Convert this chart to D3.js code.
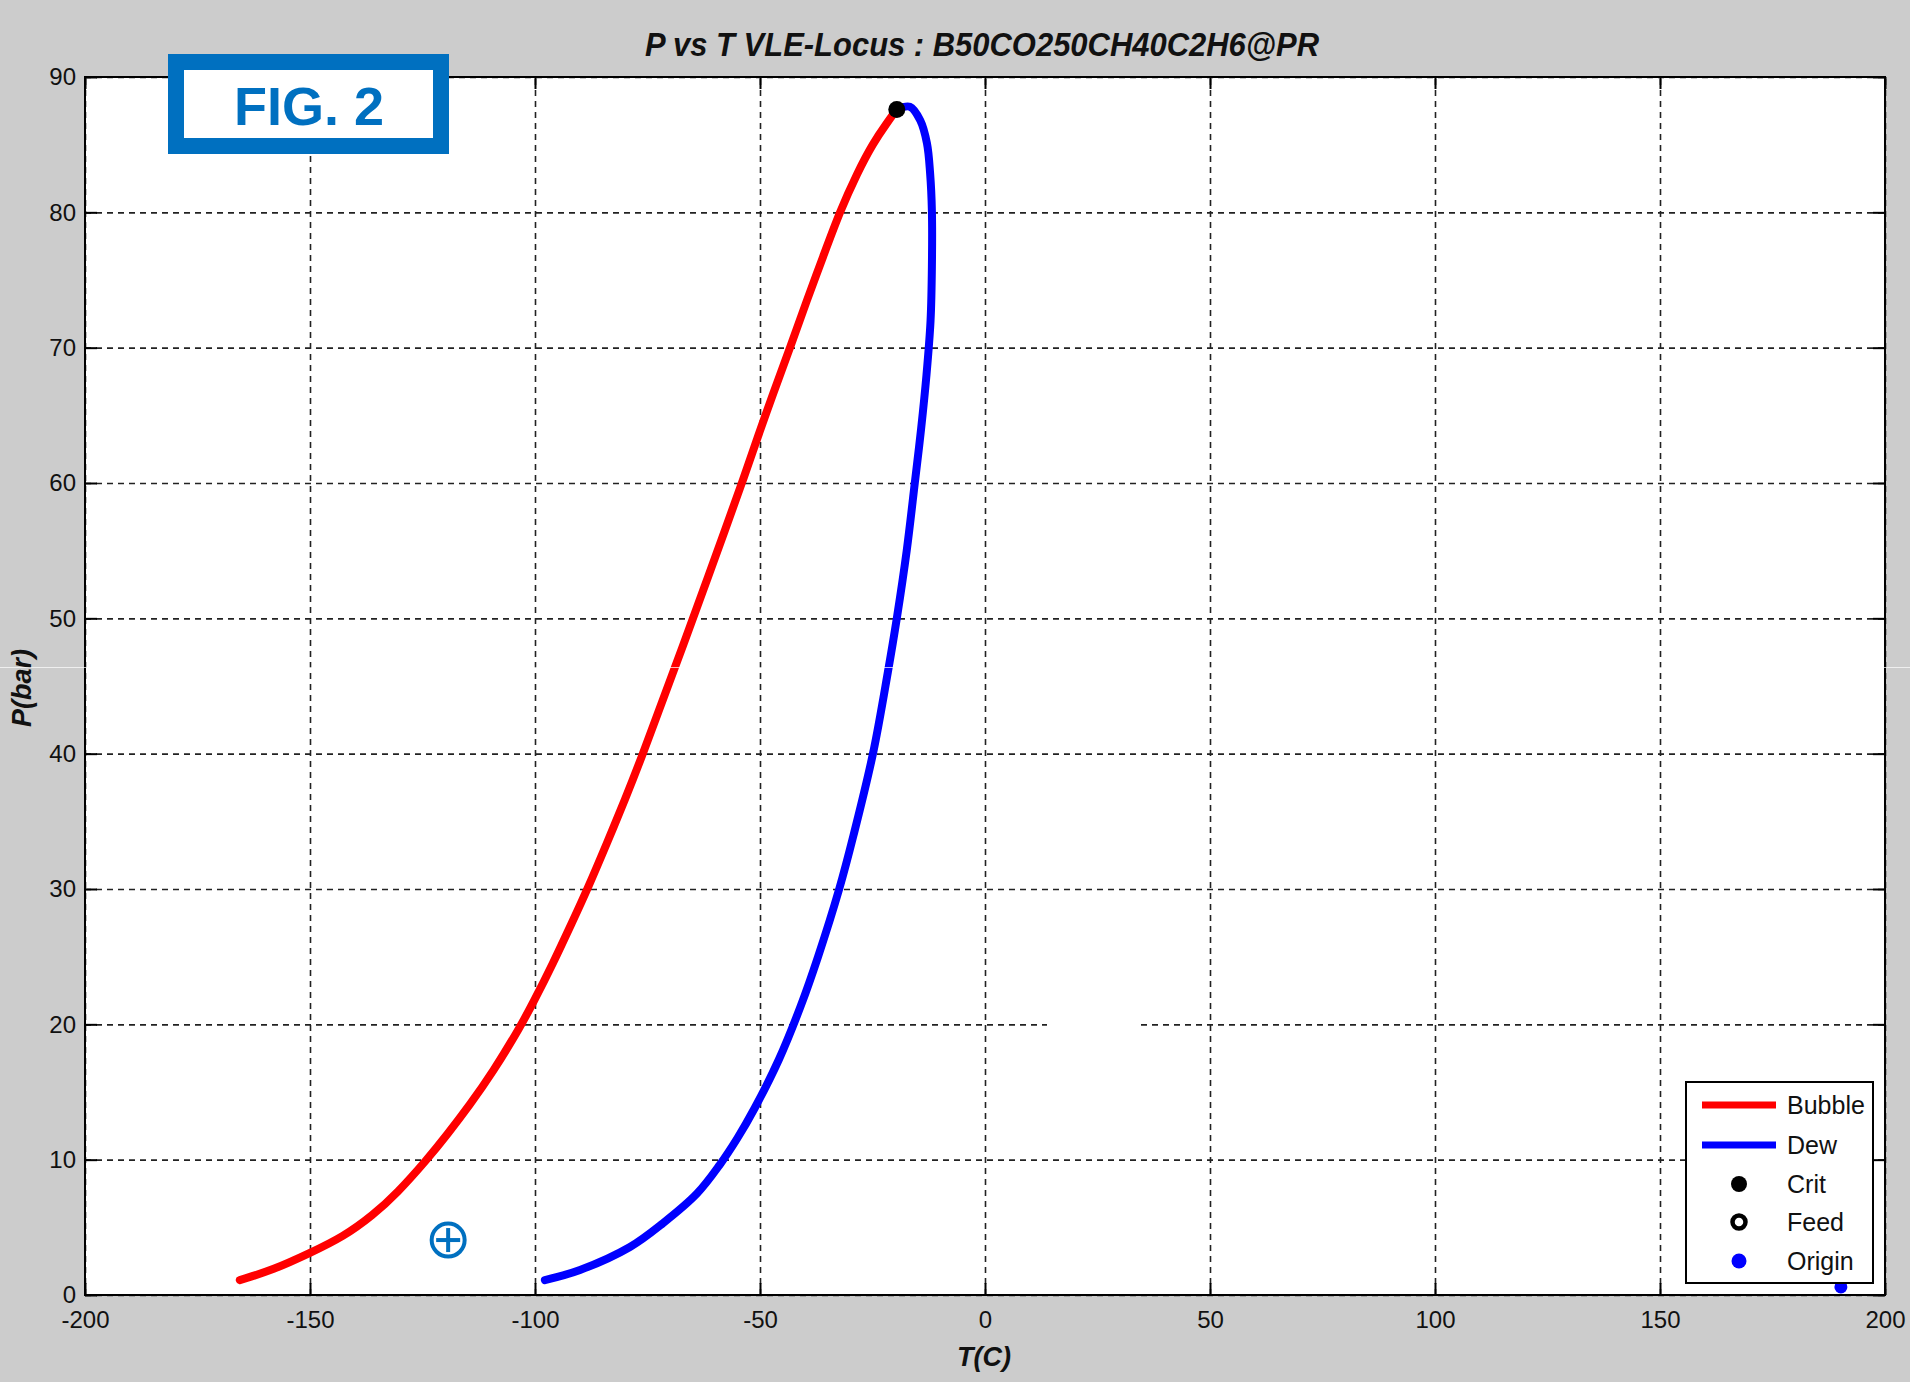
<!DOCTYPE html>
<html>
<head>
<meta charset="utf-8">
<script src="https://cdn.jsdelivr.net/npm/d3@7"></script>
<style>
  html, body { margin: 0; padding: 0; background: #cccccc; }
  svg { display: block; }
</style>
</head>
<body>
<svg id="chart" width="1910" height="1382"></svg>
<script>
// ---------------- DATA ----------------
const chartTitle = "P vs T VLE-Locus : B50CO250CH40C2H6@PR";
const xLabel = "T(C)";
const yLabel = "P(bar)";
const xTicks = [-200, -150, -100, -50, 0, 50, 100, 150, 200];
const yTicks = [0, 10, 20, 30, 40, 50, 60, 70, 80, 90];

// Bubble curve (T in C, P in bar)
const bubbleT = [-165.6, -158.2, -150.0, -142.6, -136.0, -130.7, -124.0, -119.4, -114.6, -109.3,
                 -103.3, -100.4, -96.0, -91.8, -88.2, -84.0, -80.0, -76.0, -72.7, -69.3,
                 -64.9, -61.6, -57.8, -54.0, -50.3, -47.2, -43.3, -39.6, -36.0, -32.2,
                 -28.4, -24.9, -21.8, -19.6];
const bubbleP = [1.1, 1.85, 3.1, 4.3, 5.9, 7.5, 10.0, 11.9, 14.0, 16.5,
                 19.8, 21.6, 24.5, 27.5, 30.1, 33.4, 36.6, 40.0, 43.0, 46.0,
                 50.0, 53.0, 56.5, 60.0, 63.6, 66.5, 70.0, 73.5, 76.7, 80.1,
                 82.9, 85.1, 86.6, 87.6];

// Dew curve
const dewT = [-97.8, -90.0, -78.9, -71.6, -64.0, -59.0, -55.0, -51.2, -45.8, -40.9,
              -37.1, -32.4, -29.2, -24.9, -21.6, -19.6, -17.4, -15.6, -14.2, -13.0,
              -12.1, -11.8, -11.8, -12.2, -12.9, -14.4, -16.7, -19.6];
const dewP = [1.1, 1.85, 3.55, 5.3, 7.5, 9.6, 11.6, 13.8, 17.4, 21.4,
              25.0, 30.0, 34.0, 40.0, 46.0, 50.0, 55.0, 60.0, 64.0, 68.0,
              72.0, 76.0, 80.1, 82.9, 85.1, 86.8, 87.8, 87.6];

// Special points
const critPoint = [-19.6, 87.6];
const originPoint = [190.2, 0.6];
const annotationPoint = [-119.3, 4.06];   // circled-plus mark
const legendNames = ["Bubble", "Dew", "Crit", "Feed", "Origin"];
const figLabel = "FIG. 2";

// ---------------- LAYOUT ----------------
const svg = d3.select("#chart");
const W = 1910, H = 1382;
const plot = { left: 85, right: 1885, top: 77, bottom: 1295 };
const x = d3.scaleLinear().domain([-200, 200]).range([plot.left, plot.right]);
const y = d3.scaleLinear().domain([0, 90]).range([plot.bottom, plot.top]);
const pw = plot.right - plot.left, ph = plot.bottom - plot.top;
const blue = "#0070c0";
const FONT = "'Liberation Sans', Arial, sans-serif";

svg.append("rect").attr("width", W).attr("height", H).attr("fill", "#cccccc");
svg.append("rect").attr("x", plot.left).attr("y", plot.top)
  .attr("width", pw).attr("height", ph).attr("fill", "#ffffff");

// Grid
const gridX = svg.append("g").attr("transform", `translate(0,${plot.bottom})`)
  .call(d3.axisBottom(x).tickValues(xTicks).tickSize(-ph).tickFormat(""));
const gridY = svg.append("g").attr("transform", `translate(${plot.left},0)`)
  .call(d3.axisLeft(y).tickValues(yTicks).tickSize(-pw).tickFormat(""));
[gridX, gridY].forEach(g => {
  g.select(".domain").remove();
  g.selectAll("line").attr("stroke", "#222").attr("stroke-width", 1.6)
    .attr("stroke-dasharray", "6,5");
});
// small gap artifact in the 20-bar gridline
svg.append("rect").attr("x", 1047).attr("y", y(20) - 4).attr("width", 89).attr("height", 8)
  .attr("fill", "#fff");

// Inward tick marks on all four sides
const tl = 12;
const fmt = d => String(d);
const axB = svg.append("g").attr("transform", `translate(0,${plot.bottom})`)
  .call(d3.axisBottom(x).tickValues(xTicks).tickSize(-tl).tickPadding(16).tickFormat(fmt));
const axL = svg.append("g").attr("transform", `translate(${plot.left},0)`)
  .call(d3.axisLeft(y).tickValues(yTicks).tickSize(-tl).tickPadding(9).tickFormat(fmt));
const axT = svg.append("g").attr("transform", `translate(0,${plot.top})`)
  .call(d3.axisTop(x).tickValues(xTicks).tickSize(-tl).tickFormat(""));
const axR = svg.append("g").attr("transform", `translate(${plot.right},0)`)
  .call(d3.axisRight(y).tickValues(yTicks).tickSize(-tl).tickFormat(""));
[axB, axL, axT, axR].forEach(g => {
  g.select(".domain").remove();
  g.selectAll("line").attr("stroke", "#000").attr("stroke-width", 2);
  g.selectAll("text").attr("fill", "#111")
    .attr("font-family", FONT).attr("font-size", 24);
});
axB.selectAll("text").attr("dy", "0.71em");

// Curves
const bubble = bubbleT.map((t, i) => [t, bubbleP[i]]);
const dew = dewT.map((t, i) => [t, dewP[i]]);
const lineB = d3.line().x(d => x(d[0])).y(d => y(d[1])).curve(d3.curveBasis);
const lineD = d3.line().x(d => x(d[0])).y(d => y(d[1])).curve(d3.curveCatmullRom.alpha(0.5));
svg.append("path").datum(bubble).attr("d", lineB).attr("fill", "none")
  .attr("stroke", "#ff0000").attr("stroke-width", 8).attr("stroke-linecap", "round").attr("stroke-linejoin", "round");
svg.append("path").datum(dew).attr("d", lineD).attr("fill", "none")
  .attr("stroke", "#0000ff").attr("stroke-width", 8).attr("stroke-linecap", "round").attr("stroke-linejoin", "round");

// Crit point
svg.append("circle").attr("cx", x(critPoint[0])).attr("cy", y(critPoint[1])).attr("r", 8.5).attr("fill", "#000");
// Origin point
svg.append("circle").attr("cx", x(originPoint[0])).attr("cy", y(originPoint[1])).attr("r", 6.5).attr("fill", "#0000ff");

// Axes box
svg.append("rect").attr("x", plot.left).attr("y", plot.top).attr("width", pw).attr("height", ph)
  .attr("fill", "none").attr("stroke", "#000").attr("stroke-width", 2);

// Circled plus annotation
const ax0 = x(annotationPoint[0]), ay0 = y(annotationPoint[1]);
svg.append("circle").attr("cx", ax0).attr("cy", ay0).attr("r", 16.5)
  .attr("fill", "none").attr("stroke", blue).attr("stroke-width", 4);
svg.append("line").attr("x1", ax0 - 12).attr("x2", ax0 + 12).attr("y1", ay0).attr("y2", ay0)
  .attr("stroke", blue).attr("stroke-width", 4);
svg.append("line").attr("x1", ax0).attr("x2", ax0).attr("y1", ay0 - 12).attr("y2", ay0 + 12)
  .attr("stroke", blue).attr("stroke-width", 4);

// Legend
const lg = { x: 1686, y: 1082, w: 187, h: 201 };
svg.append("rect").attr("x", lg.x).attr("y", lg.y).attr("width", lg.w).attr("height", lg.h)
  .attr("fill", "#fff").attr("stroke", "#000").attr("stroke-width", 2);
const rowY = [1105, 1145, 1184, 1222, 1261];
const legG = svg.append("g");
legendNames.forEach((name, i) => {
  const ry = rowY[i];
  if (i === 0 || i === 1) {
    legG.append("line").attr("x1", 1702).attr("x2", 1776).attr("y1", ry).attr("y2", ry)
      .attr("stroke", i === 0 ? "#ff0000" : "#0000ff").attr("stroke-width", 7);
  } else if (i === 2) {
    legG.append("circle").attr("cx", 1739).attr("cy", ry).attr("r", 8).attr("fill", "#000");
  } else if (i === 3) {
    legG.append("circle").attr("cx", 1739).attr("cy", ry).attr("r", 6.5)
      .attr("fill", "#fff").attr("stroke", "#000").attr("stroke-width", 4.5);
  } else {
    legG.append("circle").attr("cx", 1739).attr("cy", ry).attr("r", 7.5).attr("fill", "#0000ff");
  }
  legG.append("text").attr("x", 1787).attr("y", ry).attr("dy", "0.36em")
    .attr("font-family", FONT).attr("font-size", 25)
    .attr("fill", "#111")
    .text(name);
});

// Title and axis labels
svg.append("text").attr("x", 982).attr("y", 56).attr("text-anchor", "middle")
  .attr("font-family", FONT).attr("font-size", 34)
  .attr("font-weight", "bold").attr("font-style", "italic").attr("fill", "#111")
  .attr("textLength", 674).attr("lengthAdjust", "spacingAndGlyphs")
  .text(chartTitle);
svg.append("text").attr("x", 984).attr("y", 1366).attr("text-anchor", "middle")
  .attr("font-family", FONT).attr("font-size", 27)
  .attr("font-weight", "bold").attr("font-style", "italic").attr("fill", "#111")
  .text(xLabel);
svg.append("text").attr("transform", "translate(31,688) rotate(-90)").attr("text-anchor", "middle")
  .attr("font-family", FONT).attr("font-size", 27)
  .attr("font-weight", "bold").attr("font-style", "italic").attr("fill", "#111")
  .text(yLabel);

// FIG. 2 box
svg.append("rect").attr("x", 176).attr("y", 62).attr("width", 265).attr("height", 84)
  .attr("fill", "#fff").attr("stroke", blue).attr("stroke-width", 16);
svg.append("text").attr("x", 309).attr("y", 125).attr("text-anchor", "middle")
  .attr("font-family", FONT).attr("font-size", 54)
  .attr("font-weight", "bold").attr("fill", blue).text(figLabel);

// thin scan artifact line
svg.append("line").attr("x1", 0).attr("x2", W).attr("y1", 667.5).attr("y2", 667.5)
  .attr("stroke", "#fff").attr("stroke-width", 1).attr("opacity", 0.7);
</script>
</body>
</html>
